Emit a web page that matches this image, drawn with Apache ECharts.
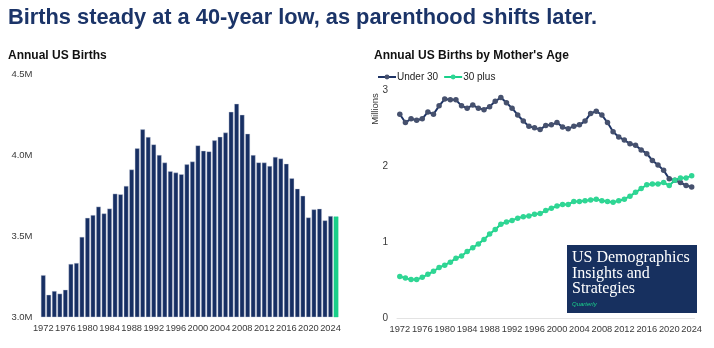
<!DOCTYPE html>
<html>
<head>
<meta charset="utf-8">
<script src="https://cdn.jsdelivr.net/npm/echarts@6/dist/echarts.min.js"></script>
<style>
  html, body { margin: 0; padding: 0; background: #ffffff; }
  #chart { width: 714px; height: 348px; }
</style>
</head>
<body>
<div id="chart"></div>
<script>
// Annual US births, millions (last year is the current estimate)
const birthYears = ['1972','1973','1974','1975','1976','1977','1978','1979','1980','1981','1982','1983','1984','1985','1986','1987','1988','1989','1990','1991','1992','1993','1994','1995','1996','1997','1998','1999','2000','2001','2002','2003','2004','2005','2006','2007','2008','2009','2010','2011','2012','2013','2014','2015','2016','2017','2018','2019','2020','2021','2022','2023','2024','2025'];
const totalBirths = [3.258,3.137,3.160,3.144,3.168,3.327,3.333,3.494,3.612,3.629,3.681,3.639,3.669,3.761,3.757,3.809,3.910,4.041,4.158,4.111,4.065,4.000,3.953,3.900,3.891,3.881,3.942,3.959,4.059,4.026,4.022,4.090,4.112,4.138,4.266,4.316,4.248,4.131,3.999,3.954,3.953,3.932,3.988,3.978,3.946,3.856,3.792,3.748,3.614,3.664,3.668,3.596,3.623,3.620];

// Births by mother's age, millions
const ageYears = birthYears.slice(0, 53);
const under30 = [2.69,2.58,2.63,2.61,2.63,2.72,2.69,2.80,2.89,2.88,2.88,2.80,2.77,2.81,2.77,2.75,2.79,2.86,2.91,2.84,2.77,2.68,2.60,2.53,2.51,2.49,2.54,2.55,2.58,2.52,2.50,2.53,2.55,2.60,2.70,2.73,2.68,2.58,2.46,2.39,2.35,2.30,2.28,2.22,2.17,2.08,2.02,1.95,1.84,1.82,1.79,1.75,1.73];
const plus30 = [0.55,0.53,0.51,0.51,0.54,0.58,0.62,0.67,0.70,0.74,0.79,0.82,0.88,0.93,0.98,1.04,1.11,1.17,1.24,1.27,1.29,1.32,1.34,1.35,1.37,1.38,1.42,1.45,1.48,1.50,1.50,1.54,1.54,1.55,1.56,1.57,1.55,1.54,1.53,1.55,1.57,1.61,1.66,1.71,1.76,1.77,1.77,1.79,1.75,1.82,1.85,1.85,1.88];

const leftTicks = [3.0, 3.5, 4.0, 4.5];
const rightTicks = [0, 1, 2, 3];

const NAVY = '#172f63';
const GREEN = '#19d08a';
const LINE_NAVY = '#1e3466';
const DOT_NAVY = '#46516e';
const AXIS_TEXT = '#3a3a3a';
const SANS = 'Liberation Sans, Arial, sans-serif';
const SERIF = 'Liberation Serif, Times New Roman, serif';

const lastIndex = birthYears.length - 1;
const barData = totalBirths.map((v, i) => i === lastIndex
  ? { value: v, itemStyle: { color: GREEN, borderColor: GREEN } }
  : v);

const chart = echarts.init(document.getElementById('chart'), null, { renderer: 'canvas' });

chart.setOption({
  animation: false,
  backgroundColor: '#ffffff',
  title: [
    {
      text: 'Births steady at a 40-year low, as parenthood shifts later.',
      left: 8, top: 7, padding: 0,
      textStyle: { fontFamily: SANS, fontSize: 21.8, fontWeight: 'bold', color: '#1b3468' }
    },
    {
      text: 'Annual US Births',
      left: 8, top: 50, padding: 0,
      textStyle: { fontFamily: SANS, fontSize: 12, fontWeight: 'bold', color: '#111111' }
    },
    {
      text: "Annual US Births by Mother's Age",
      left: 374, top: 50, padding: 0,
      textStyle: { fontFamily: SANS, fontSize: 12, fontWeight: 'bold', color: '#111111' }
    }
  ],
  legend: {
    left: 377, top: 72, padding: 0,
    itemWidth: 18, itemHeight: 6, itemGap: 5,
    textStyle: { fontFamily: SANS, fontSize: 10, color: '#222222', padding: [0, 0, 0, -4] },
    data: ['Under 30', '30 plus']
  },
  grid: [
    { left: 40.5, right: 375.2, top: 74, bottom: 31 },
    { left: 397, right: 19.5, top: 90.7, bottom: 29.7 }
  ],
  xAxis: [
    {
      type: 'category', gridIndex: 0, data: birthYears,
      axisLine: { show: false }, axisTick: { show: false },
      axisLabel: { interval: 3, fontFamily: SANS, fontSize: 9.3, color: AXIS_TEXT, margin: 7 }
    },
    {
      type: 'category', gridIndex: 1, data: ageYears, boundaryGap: true,
      axisLine: { show: true, lineStyle: { color: '#e3e3e3', width: 1 } },
      axisTick: { show: false },
      axisLabel: { interval: 3, fontFamily: SANS, fontSize: 9.3, color: AXIS_TEXT, margin: 7 }
    }
  ],
  yAxis: [
    {
      type: 'value', gridIndex: 0,
      min: leftTicks[0], max: leftTicks[leftTicks.length - 1], interval: 0.5,
      splitLine: { show: false }, axisLine: { show: false }, axisTick: { show: false },
      axisLabel: {
        fontFamily: SANS, fontSize: 9.5, color: AXIS_TEXT, margin: 8,
        formatter: v => v.toFixed(1) + 'M'
      }
    },
    {
      type: 'value', gridIndex: 1,
      min: rightTicks[0], max: rightTicks[rightTicks.length - 1], interval: 1,
      splitLine: { show: false }, axisLine: { show: false }, axisTick: { show: false },
      axisLabel: { fontFamily: SANS, fontSize: 10, color: AXIS_TEXT, margin: 9 }
    }
  ],
  series: [
    {
      name: 'Annual US Births', type: 'bar', xAxisIndex: 0, yAxisIndex: 0,
      data: barData, barCategoryGap: '16%',
      itemStyle: { color: NAVY, borderColor: '#c9d0de', borderWidth: 0.4 }
    },
    {
      name: 'Under 30', type: 'line', xAxisIndex: 1, yAxisIndex: 1,
      data: under30, symbol: 'circle', symbolSize: 5.5, showAllSymbol: true,
      lineStyle: { color: LINE_NAVY, width: 2 },
      itemStyle: { color: DOT_NAVY, borderWidth: 0 }
    },
    {
      name: '30 plus', type: 'line', xAxisIndex: 1, yAxisIndex: 1,
      data: plus30, symbol: 'circle', symbolSize: 5.5, showAllSymbol: true,
      lineStyle: { color: GREEN, width: 2 },
      itemStyle: { color: '#2fd694', borderWidth: 0 }
    }
  ],
  graphic: [
    {
      type: 'text', x: 375, y: 109, rotation: Math.PI / 2,
      style: {
        text: 'Millions', fontFamily: SANS, fontSize: 9.5, fill: '#333333',
        textAlign: 'center', textVerticalAlign: 'middle'
      }
    },
    {
      type: 'group', x: 567, y: 245,
      children: [
        { type: 'rect', shape: { x: 0, y: 0, width: 130, height: 68 }, style: { fill: '#17305f' } },
        { type: 'text', x: 5, y: 13, style: { text: 'US Demographics', fontFamily: SERIF, fontSize: 16, fill: '#ffffff', textVerticalAlign: 'middle' } },
        { type: 'text', x: 5, y: 28.5, style: { text: 'Insights and', fontFamily: SERIF, fontSize: 16, fill: '#ffffff', textVerticalAlign: 'middle' } },
        { type: 'text', x: 5, y: 44, style: { text: 'Strategies', fontFamily: SERIF, fontSize: 16, fill: '#ffffff', textVerticalAlign: 'middle' } },
        { type: 'text', x: 5, y: 59.5, style: { text: 'Quarterly', fontFamily: SANS, fontSize: 6, fontStyle: 'italic', fill: GREEN, textVerticalAlign: 'middle' } }
      ]
    }
  ]
});
</script>
</body>
</html>
